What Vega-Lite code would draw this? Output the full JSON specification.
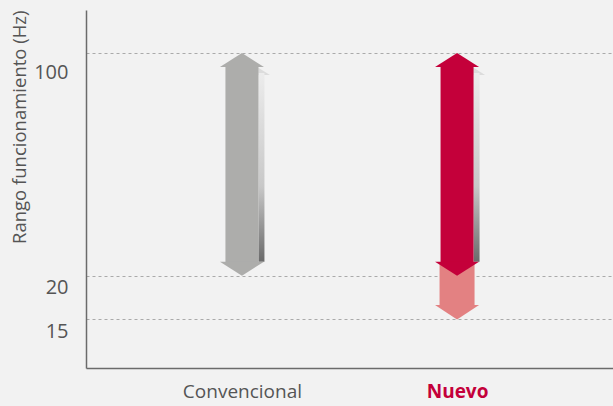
{
  "$schema": "https://vega.github.io/schema/vega-lite/v6.json",
  "width": 527,
  "height": 358,
  "autosize": {"type": "none"},
  "padding": {"left": 86, "top": 10, "right": 0, "bottom": 38},
  "background": "#f2f2f2",
  "config": {
    "view": {"stroke": null},
    "font": "Open Sans",
    "axis": {"domainColor": "#6b6b6b", "domainWidth": 1.5, "ticks": false, "labelFont": "Open Sans", "titleFont": "Open Sans"}
  },
  "datasets": {
    "shafts": [
      {"cat": "Convencional", "top": 100, "bot": 20, "kind": "grey"},
      {"cat": "Nuevo", "top": 100, "bot": 20, "kind": "red"}
    ],
    "pink": [
      {"cat": "Nuevo", "top": 20, "bot": 15, "kind": "pink"}
    ],
    "heads": [
      {"cat": "Convencional", "v": 100, "dir": "up", "kind": "grey"},
      {"cat": "Convencional", "v": 20, "dir": "down", "kind": "grey"},
      {"cat": "Nuevo", "v": 100, "dir": "up", "kind": "red"},
      {"cat": "Nuevo", "v": 20, "dir": "down", "kind": "red"}
    ],
    "pinkhead": [
      {"cat": "Nuevo", "v": 15, "dir": "down", "kind": "pink"}
    ],
    "shadowhead": [
      {"cat": "Convencional", "v": 100, "dir": "up"},
      {"cat": "Nuevo", "v": 100, "dir": "up"}
    ]
  },
  "encoding": {
    "x": {
      "field": "cat", "type": "nominal",
      "scale": {"type": "point", "domain": ["Convencional", "Nuevo"], "padding": 0.725},
      "axis": {
        "title": null, "labelAngle": 0, "labelFontSize": 19, "labelPadding": 14,
        "labelColor": {"condition": {"test": "datum.value == 'Nuevo'", "value": "#c4003a"}, "value": "#555555"},
        "labelFontWeight": {"condition": {"test": "datum.value == 'Nuevo'", "value": "bold"}, "value": "normal"},
        "grid": false
      }
    }
  },
  "layer": [
    {
      "data": {"name": "shadowhead"},
      "mark": {"type": "point", "filled": true, "opacity": 1, "size": 1936, "xOffset": 6, "yOffset": 8, "color": "#dcdcdc", "strokeWidth": 0,
        "shape": "M0,0L1,0.636L-1,0.636Z"},
      "encoding": {
        "y": {"field": "v", "type": "quantitative",
          "scale": {"type": "pow", "exponent": -0.1, "domain": [11, 141], "zero": false, "nice": false},
          "axis": {
            "title": "Rango funcionamiento (Hz)", "titleFontSize": 18.5, "titleFontWeight": "normal", "titleColor": "#555555", "titlePadding": 4, "titleAnchor": "end",
            "values": [15, 20, 100], "labelFontSize": 20, "labelColor": "#555555", "labelPadding": 18,
            "labelOffset": {"condition": {"test": "datum.value == 100", "value": 19}, "value": 12},
            "grid": true, "gridColor": "#aaaaaa", "gridDash": [3, 3], "gridWidth": 1
          }
        }
      }
    },
    {
      "data": {"name": "shafts"},
      "mark": {"type": "bar", "width": 6, "xOffset": 19.5, "yOffset": 20, "y2Offset": -14,
        "color": {"gradient": "linear", "x1": 0, "y1": 0, "x2": 0, "y2": 1,
          "stops": [{"offset": 0, "color": "#ececec"}, {"offset": 0.6, "color": "#c8c8c8"}, {"offset": 1, "color": "#6a6a6a"}]}},
      "encoding": {
        "y": {"field": "top", "type": "quantitative"},
        "y2": {"field": "bot"}
      }
    },
    {
      "data": {"name": "pink"},
      "mark": {"type": "bar", "width": 35, "yOffset": -12, "y2Offset": -14, "color": "#e38182"},
      "encoding": {
        "y": {"field": "top", "type": "quantitative"},
        "y2": {"field": "bot"}
      }
    },
    {
      "data": {"name": "pinkhead"},
      "mark": {"type": "point", "filled": true, "opacity": 1, "size": 1936, "color": "#e38182", "strokeWidth": 0,
        "shape": "M0,0L1,-0.66L-1,-0.66Z"},
      "encoding": {
        "y": {"field": "v", "type": "quantitative"}
      }
    },
    {
      "data": {"name": "shafts"},
      "mark": {"type": "bar", "width": 33, "yOffset": 13, "y2Offset": -13},
      "encoding": {
        "y": {"field": "top", "type": "quantitative"},
        "y2": {"field": "bot"},
        "color": {"field": "kind", "type": "nominal", "scale": {"domain": ["grey", "red", "pink"], "range": ["#adadab", "#c4003a", "#e38182"]}, "legend": null}
      }
    },
    {
      "data": {"name": "heads"},
      "mark": {"type": "point", "filled": true, "opacity": 1, "size": 1936, "strokeWidth": 0},
      "encoding": {
        "y": {"field": "v", "type": "quantitative"},
        "shape": {"field": "dir", "type": "nominal", "scale": {"domain": ["up", "down"], "range": ["M0,0L1,0.636L-1,0.636Z", "M0,0L1,-0.636L-1,-0.636Z"]}, "legend": null},
        "color": {"field": "kind", "type": "nominal", "legend": null}
      }
    }
  ]
}
